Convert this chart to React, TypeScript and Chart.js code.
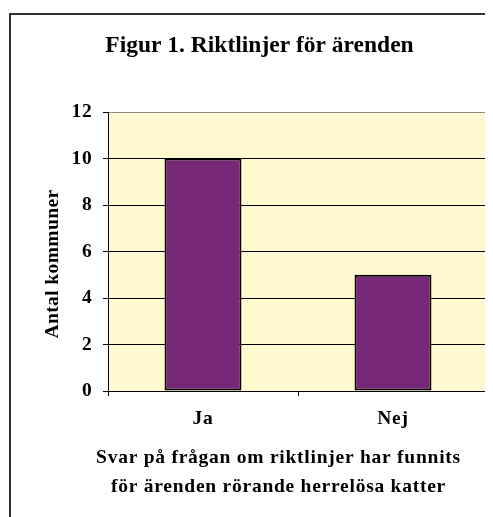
import { useEffect, useRef } from "react";
import { Chart, registerables } from "chart.js";

Chart.register(...registerables);

const categories = ["Ja", "Nej"];
const values = [10, 5];
const yTicks = [0, 2, 4, 6, 8, 10, 12];
const chartTitle = "Figur 1. Riktlinjer för ärenden";
const yTitle = "Antal kommuner";
const xTitleLines = [
  "Svar på frågan om riktlinjer har funnits",
  "för ärenden rörande herrelösa katter",
];

const FONT = "'Liberation Serif', 'Times New Roman', serif";
const AXIS_SIZE = 19.5;
const SPACING = "0.75px";

const decor = {
  id: "decor",
  beforeDraw(chart: any) {
    const { ctx, chartArea: a } = chart;
    ctx.save();
    ctx.fillStyle = "#FFF8CF";
    ctx.fillRect(a.left, a.top, a.right - a.left, a.bottom - a.top);
    ctx.strokeStyle = "#333333";
    ctx.lineWidth = 2;
    ctx.strokeRect(2, 6, 2000, 2000);
    ctx.restore();
    (ctx as any).letterSpacing = SPACING;
  },
  beforeDatasetsDraw(chart: any) {
    const { ctx, chartArea: a } = chart;
    ctx.save();
    ctx.strokeStyle = "#8c8c8c";
    ctx.lineWidth = 1;
    ctx.beginPath();
    ctx.moveTo(a.right + 0.5, a.top);
    ctx.lineTo(a.right + 0.5, a.bottom);
    ctx.stroke();
    ctx.restore();
  },
  afterDraw(chart: any) {
    const { ctx, chartArea: a } = chart;
    ctx.save();
    ctx.fillStyle = "#000";
    ctx.textAlign = "center";
    ctx.textBaseline = "alphabetic";
    (ctx as any).letterSpacing = "0px";
    ctx.font = `bold 23.5px ${FONT}`;
    ctx.fillText(chartTitle, a.left + 151.5, a.top - 59.7);

    (ctx as any).letterSpacing = SPACING;
    ctx.font = `bold ${AXIS_SIZE}px ${FONT}`;
    xTitleLines.forEach((line, i) => {
      ctx.fillText(line, a.left + 170.5, a.bottom + 72.3 + i * 29);
    });

    ctx.translate(50, a.top + 152);
    ctx.rotate(-Math.PI / 2);
    (ctx as any).letterSpacing = "0.4px";
    ctx.fillText(yTitle, 0, 0);
    ctx.restore();
  },
};

export default function App() {
  const ref = useRef<HTMLCanvasElement | null>(null);

  useEffect(() => {
    if (!ref.current) return;
    const chart = new Chart(ref.current, {
      type: "bar",
      data: {
        labels: categories,
        datasets: [
          {
            data: values,
            backgroundColor: "#782878",
            borderColor: "#000000",
            borderWidth: 2,
            borderSkipped: false,
            categoryPercentage: 1,
            barPercentage: 0.405,
          },
        ],
      },
      options: {
        responsive: true,
        maintainAspectRatio: false,
        animation: false,
        layout: { padding: { top: 104, right: 5, bottom: 0, left: 0 } },
        plugins: {
          legend: { display: false },
          tooltip: { enabled: false },
          title: { display: false },
        },
        scales: {
          x: {
            offset: true,
            grid: {
              offset: true,
              drawOnChartArea: false,
              drawTicks: true,
              tickLength: 5,
              color: "#000",
              lineWidth: 1,
            },
            border: { color: "#000", width: 1 },
            ticks: {
              color: "#000",
              padding: 11,
              font: { family: FONT, size: AXIS_SIZE, weight: "bold" },
            },
            afterFit(scale: any) {
              scale.height = 126;
            },
          },
          y: {
            min: yTicks[0],
            max: yTicks[yTicks.length - 1],
            ticks: {
              stepSize: yTicks[1] - yTicks[0],
              color: "#000",
              padding: 10.5,
              font: { family: FONT, size: AXIS_SIZE, weight: "bold" },
            },
            grid: {
              color: (c: any) =>
                c.tick && c.tick.value === yTicks[yTicks.length - 1] ? "#8c8c8c" : "#000",
              tickColor: "#000",
              tickLength: 5,
              lineWidth: 1,
            },
            border: { color: "#000", width: 1 },
            afterFit(scale: any) {
              scale.width = 100;
            },
          },
        },
      },
      plugins: [decor],
    });
    return () => chart.destroy();
  }, []);

  return (
    <div style={{ width: 485, height: 509, position: "relative" }}>
      <canvas ref={ref} />
    </div>
  );
}
